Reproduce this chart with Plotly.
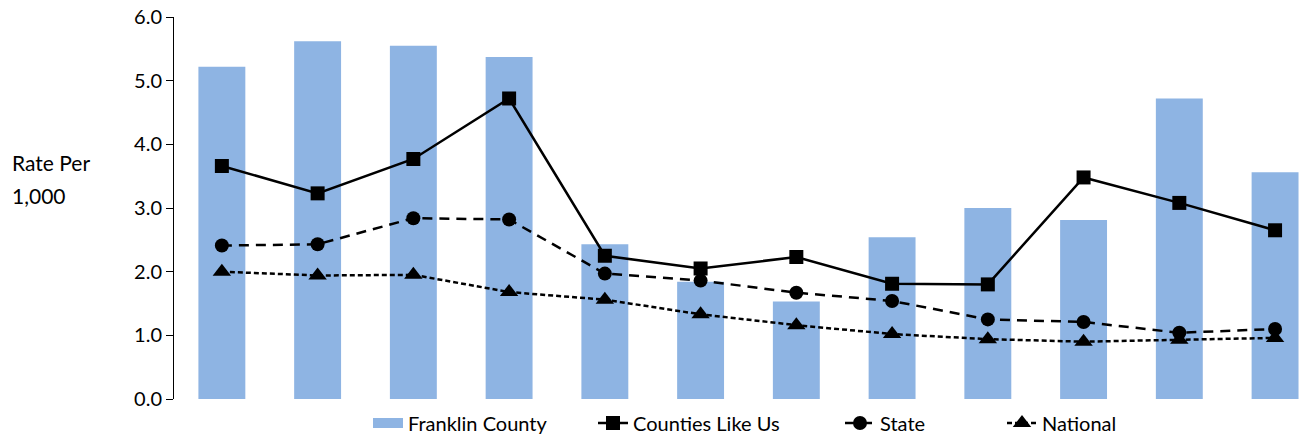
import plotly.graph_objects as go

# 12 periods, no labels shown on the x axis
periods = list(range(1, 13))

franklin_county = [5.22, 5.62, 5.55, 5.37, 2.43, 1.84, 1.53, 2.54, 3.00, 2.81, 4.72, 3.56]
counties_like_us = [3.66, 3.23, 3.77, 4.72, 2.25, 2.05, 2.23, 1.81, 1.80, 3.48, 3.08, 2.65]
state = [2.41, 2.43, 2.84, 2.82, 1.97, 1.86, 1.67, 1.54, 1.25, 1.21, 1.04, 1.10]
national = [2.00, 1.94, 1.95, 1.68, 1.56, 1.33, 1.16, 1.02, 0.94, 0.90, 0.93, 0.96]

y_ticks = [0, 1, 2, 3, 4, 5, 6]

FONT = "Lato, 'Open Sans', sans-serif"
BAR_COLOR = '#8EB4E3'

fig = go.Figure()

fig.add_trace(go.Bar(
    x=periods,
    y=franklin_county,
    name='Franklin County',
    marker=dict(color=BAR_COLOR, line=dict(width=0)),
    showlegend=False,
))

# legend swatch for the bars (wide flat rectangle like the original)
fig.add_trace(go.Scatter(
    x=[None], y=[None],
    name='Franklin County',
    mode='lines',
    line=dict(color=BAR_COLOR, width=13),
    legend='legend',
))

fig.add_trace(go.Scatter(
    x=periods,
    y=counties_like_us,
    name='Counties Like Us',
    mode='lines+markers',
    line=dict(color='black', width=2.5),
    marker=dict(symbol='square', size=14, color='black'),
    legend='legend2',
))

fig.add_trace(go.Scatter(
    x=periods,
    y=state,
    name='State',
    mode='lines+markers',
    line=dict(color='black', width=2.5, dash='10px,7px'),
    marker=dict(symbol='circle', size=14, color='black'),
    legend='legend3',
))

fig.add_trace(go.Scatter(
    x=periods,
    y=national,
    name='National',
    mode='lines+markers',
    line=dict(color='black', width=2.5, dash='5px,3px'),
    marker=dict(symbol='triangle-up', size=16, color='black'),
    legend='legend4',
))

# y-axis title, written horizontally on two lines
for txt, ypos in [("Rate Per", 162), ("1,000", 195)]:
    fig.add_annotation(
        text=txt,
        xref='paper', yref='paper',
        x=-164 / 1125, y=(399 - ypos) / 382,
        xanchor='left', yanchor='middle',
        showarrow=False,
        font=dict(family=FONT, size=21, color='black'),
    )


def legend_at(text_left):
    # one legend box per entry so each can sit where the original has it
    return dict(
        orientation='h',
        xref='container', x=(text_left - 40) / 1299, xanchor='left',
        yref='container', y=0.032, yanchor='middle',
        font=dict(family=FONT, size=20, color='black'),
        bgcolor='rgba(0,0,0,0)',
    )


fig.update_layout(
    width=1299,
    height=437,
    bargap=0.51,
    plot_bgcolor='white',
    paper_bgcolor='white',
    margin=dict(l=174, r=0, t=17, b=38, autoexpand=False),
    font=dict(family=FONT, size=20, color='black'),
    xaxis=dict(
        range=[0.5, 12.25],
        showticklabels=False,
        showgrid=False,
        zeroline=False,
        showline=False,
        ticks='',
    ),
    yaxis=dict(
        range=[0, 6],
        tickvals=y_ticks,
        tickformat='.1f',
        showgrid=False,
        zeroline=False,
        showline=True,
        linecolor='black',
        linewidth=1,
        ticks='outside',
        ticklen=7,
        tickcolor='black',
        tickfont=dict(family=FONT, size=20, color='black'),
        automargin=False,
    ),
    legend=legend_at(408),
    legend2=legend_at(633),
    legend3=legend_at(880),
    legend4=legend_at(1042),
    showlegend=True,
)

fig.write_html(
    "out.html",
    config={'displayModeBar': False},
    post_script="document.body.style.margin='0px';",
)
